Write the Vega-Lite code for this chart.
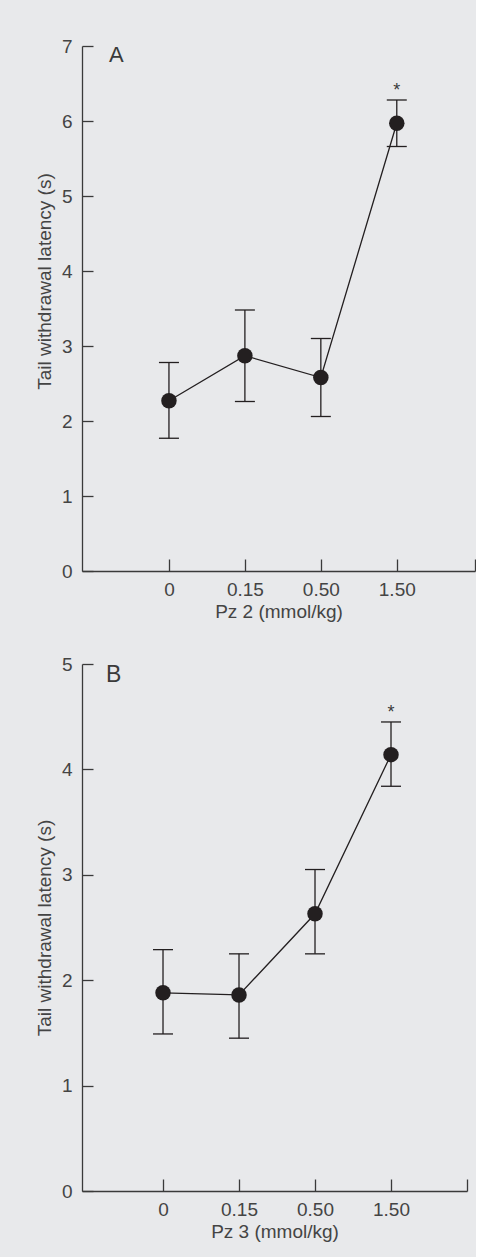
{
  "$schema": "https://vega.github.io/schema/vega-lite/v6.json",
  "background": "#e8e9eb",
  "padding": {"left": 35, "top": 37, "right": 0, "bottom": 25},
  "spacing": 34,
  "config": {
    "view": {"stroke": null},
    "font": "Liberation Sans",
    "axis": {
      "grid": false,
      "domainColor": "#3a3a3a",
      "domainWidth": 1.3,
      "tickColor": "#3a3a3a",
      "tickWidth": 1.3,
      "labelColor": "#444444",
      "titleColor": "#444444",
      "labelFont": "Liberation Sans",
      "titleFont": "Liberation Sans",
      "labelFontSize": 19,
      "titleFontSize": 19,
      "titleFontWeight": "normal"
    }
  },
  "datasets": {
    "pz2": [
      {"dose": "0", "level": 1, "mean": 2.27, "lower": 1.77, "upper": 2.78, "sig": ""},
      {"dose": "0.15", "level": 2, "mean": 2.87, "lower": 2.26, "upper": 3.48, "sig": ""},
      {"dose": "0.50", "level": 3, "mean": 2.58, "lower": 2.06, "upper": 3.10, "sig": ""},
      {"dose": "1.50", "level": 4, "mean": 5.97, "lower": 5.66, "upper": 6.28, "sig": "*"}
    ],
    "pz3": [
      {"dose": "0", "level": 1, "mean": 1.88, "lower": 1.49, "upper": 2.29, "sig": ""},
      {"dose": "0.15", "level": 2, "mean": 1.86, "lower": 1.45, "upper": 2.25, "sig": ""},
      {"dose": "0.50", "level": 3, "mean": 2.63, "lower": 2.25, "upper": 3.05, "sig": ""},
      {"dose": "1.50", "level": 4, "mean": 4.14, "lower": 3.84, "upper": 4.45, "sig": "*"}
    ]
  },
  "vconcat": [
    {
      "width": 393,
      "height": 525,
      "data": {"name": "pz2"},
      "encoding": {
        "x": {
          "field": "level", "type": "quantitative",
          "scale": {"domain": [-0.145, 5.03], "nice": false, "zero": false},
          "axis": {
            "title": "Pz 2 (mmol/kg)",
            "values": [1, 2, 3, 4, 5.03],
            "labelExpr": "datum.value == 1 ? '0' : datum.value == 2 ? '0.15' : datum.value == 3 ? '0.50' : datum.value == 4 ? '1.50' : ''",
            "tickSize": -12,
            "labelPadding": 21,
            "titlePadding": 3
          }
        },
        "y": {
          "field": "mean", "type": "quantitative",
          "scale": {"domain": [0, 7], "nice": false},
          "axis": {
            "title": "Tail withdrawal latency (s)",
            "values": [0, 1, 2, 3, 4, 5, 6, 7],
            "tickSize": -11,
            "labelPadding": 21,
            "titlePadding": 7,
            "titleY": 235
          }
        }
      },
      "layer": [
        {"mark": {"type": "rule", "color": "#231f20", "strokeWidth": 1.3},
         "encoding": {"y": {"field": "lower", "type": "quantitative"}, "y2": {"field": "upper"}}},
        {"mark": {"type": "tick", "orient": "horizontal", "color": "#231f20", "size": 20, "thickness": 1.3, "opacity": 1},
         "encoding": {"y": {"field": "lower", "type": "quantitative"}}},
        {"mark": {"type": "tick", "orient": "horizontal", "color": "#231f20", "size": 20, "thickness": 1.3, "opacity": 1},
         "encoding": {"y": {"field": "upper", "type": "quantitative"}}},
        {"mark": {"type": "line", "color": "#231f20", "strokeWidth": 1.3}, "encoding": {}},
        {"mark": {"type": "point", "shape": "circle", "filled": true, "color": "#231f20", "size": 240, "opacity": 1}, "encoding": {}},
        {"transform": [{"filter": "datum.sig == '*'"}],
         "mark": {"type": "text", "fontSize": 18, "color": "#3a3a3a", "baseline": "alphabetic", "dy": -4},
         "encoding": {"y": {"field": "upper", "type": "quantitative"}, "text": {"field": "sig"}}},
        {"data": {"values": [{"level": 0.21, "mean": 6.79, "note": "A"}]},
         "mark": {"type": "text", "fontSize": 22, "color": "#3a3a3a", "align": "left", "baseline": "alphabetic"},
         "encoding": {"text": {"field": "note"}}}
      ]
    },
    {
      "width": 385,
      "height": 527,
      "data": {"name": "pz3"},
      "encoding": {
        "x": {
          "field": "level", "type": "quantitative",
          "scale": {"domain": [-0.066, 5.0], "nice": false, "zero": false},
          "axis": {
            "title": "Pz 3 (mmol/kg)",
            "values": [1, 2, 3, 4, 5],
            "labelExpr": "datum.value == 1 ? '0' : datum.value == 2 ? '0.15' : datum.value == 3 ? '0.50' : datum.value == 4 ? '1.50' : ''",
            "tickSize": -12,
            "labelPadding": 21,
            "titlePadding": 3
          }
        },
        "y": {
          "field": "mean", "type": "quantitative",
          "scale": {"domain": [0, 5], "nice": false},
          "axis": {
            "title": "Tail withdrawal latency (s)",
            "values": [0, 1, 2, 3, 4, 5],
            "tickSize": -11,
            "labelPadding": 21,
            "titlePadding": 7
          }
        }
      },
      "layer": [
        {"mark": {"type": "rule", "color": "#231f20", "strokeWidth": 1.3},
         "encoding": {"y": {"field": "lower", "type": "quantitative"}, "y2": {"field": "upper"}}},
        {"mark": {"type": "tick", "orient": "horizontal", "color": "#231f20", "size": 20, "thickness": 1.3, "opacity": 1},
         "encoding": {"y": {"field": "lower", "type": "quantitative"}}},
        {"mark": {"type": "tick", "orient": "horizontal", "color": "#231f20", "size": 20, "thickness": 1.3, "opacity": 1},
         "encoding": {"y": {"field": "upper", "type": "quantitative"}}},
        {"mark": {"type": "line", "color": "#231f20", "strokeWidth": 1.3}, "encoding": {}},
        {"mark": {"type": "point", "shape": "circle", "filled": true, "color": "#231f20", "size": 240, "opacity": 1}, "encoding": {}},
        {"transform": [{"filter": "datum.sig == '*'"}],
         "mark": {"type": "text", "fontSize": 18, "color": "#3a3a3a", "baseline": "alphabetic", "dy": -4},
         "encoding": {"y": {"field": "upper", "type": "quantitative"}, "text": {"field": "sig"}}},
        {"data": {"values": [{"level": 0.25, "mean": 4.825, "note": "B"}]},
         "mark": {"type": "text", "fontSize": 23, "color": "#3a3a3a", "align": "left", "baseline": "alphabetic"},
         "encoding": {"text": {"field": "note"}}}
      ]
    }
  ]
}
